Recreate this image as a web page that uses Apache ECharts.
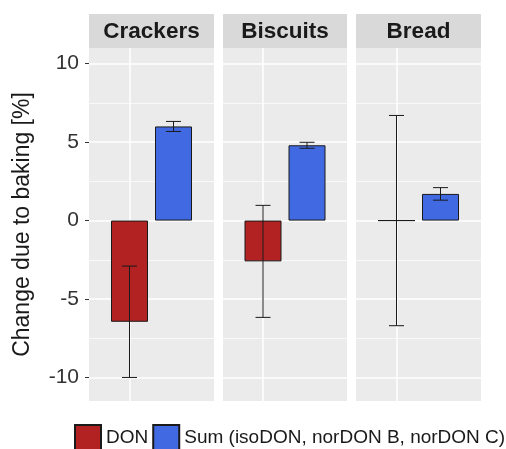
<!DOCTYPE html>
<html>
<head>
<meta charset="utf-8">
<script src="https://cdn.jsdelivr.net/npm/echarts@6/dist/echarts.min.js"></script>
<style>
  html, body { margin: 0; padding: 0; background: #fff; }
  #chart { width: 506px; height: 449px; }
</style>
</head>
<body>
<div id="chart"></div>
<script>
// Change in mycotoxin content due to baking, per product (mean ± SD)
const panels = ['Crackers', 'Biscuits', 'Bread'];
const seriesNames = ['DON', 'Sum (isoDON, norDON B, norDON C)'];
const donMean = [-6.45, -2.6, 0];
const donSd = [3.55, 3.57, 6.7];
const sumMean = [6.0, 4.8, 1.7];
const sumSd = [0.32, 0.19, 0.4];
const yTicks = [-10, -5, 0, 5, 10];
const yMinor = [-7.5, -2.5, 2.5, 7.5];
const yRange = [-11.5, 11];

const colors = ['#B22222', '#4169E1'];
const FONT = 'Liberation Sans, Arial, sans-serif';
const INK = '#1a1a1a';

// panel geometry
const gridLeft = [89, 223, 356];
const gridWidth = [125, 124, 125];
const gridTop = 48;
const gridHeight = 353;
const stripTop = 14;
const barW = 37;
const barGapPx = 7;
const dodge = (barW + barGapPx) / 2;
const capHalf = 7.5;

const grids = [], xAxes = [], yAxes = [], series = [], graphics = [];

panels.forEach((p, i) => {
  grids.push({
    left: gridLeft[i], top: gridTop, width: gridWidth[i], height: gridHeight,
    show: true, backgroundColor: '#EBEBEB', borderWidth: 0
  });
  xAxes.push({
    type: 'category', gridIndex: i, data: [p],
    axisLine: { show: false }, axisTick: { show: false },
    axisLabel: { show: false }, splitLine: { show: false }
  });
  yAxes.push({
    type: 'value', gridIndex: i, min: yRange[0], max: yRange[1],
    name: i === 0 ? 'Change due to baking [%]' : '',
    nameLocation: 'middle', nameGap: 55,
    nameTextStyle: { fontFamily: FONT, fontSize: 23, color: INK },
    axisLine: { show: false },
    axisTick: { show: i === 0, length: 4, customValues: yTicks,
      lineStyle: { color: '#333', width: 1 } },
    axisLabel: { show: i === 0, customValues: yTicks, margin: 10,
      fontFamily: FONT, fontSize: 21, color: '#333' },
    splitLine: { show: false }
  });

  const gridLines = [
    ...yTicks.map(v => ({ yAxis: v, lineStyle: { width: 1.5 } })),
    ...yMinor.map(v => ({ yAxis: v, lineStyle: { width: 0.7 } })),
    { xAxis: p, lineStyle: { width: 1.5 } }
  ];

  const means = [donMean[i], sumMean[i]];
  const sds = [donSd[i], sumSd[i]];
  seriesNames.forEach((name, k) => {
    const bar = {
      type: 'bar', name: name, xAxisIndex: i, yAxisIndex: i,
      data: [means[k]], barWidth: barW, barGap: (barGapPx / barW * 100) + '%',
      itemStyle: { color: colors[k], borderColor: INK, borderWidth: 1 },
      z: 2, animation: false, silent: true
    };
    if (k === 0) {
      bar.markLine = {
        silent: true, symbol: 'none', z: 1, animation: false,
        label: { show: false },
        lineStyle: { color: '#ffffff', type: 'solid' },
        data: gridLines
      };
    }
    series.push(bar);
  });

  // error bars (mean ± SD), dodged to sit on each bar
  series.push({
    type: 'custom', xAxisIndex: i, yAxisIndex: i, z: 3, animation: false, silent: true,
    data: [0, 1].map(k => [p, means[k] - sds[k], means[k] + sds[k], k]),
    encode: { x: 0, y: [1, 2] },
    renderItem: (params, api) => {
      const lo = api.coord([api.value(0), api.value(1)]);
      const hi = api.coord([api.value(0), api.value(2)]);
      const cx = lo[0] + (api.value(3) === 0 ? -dodge : dodge);
      const st = { stroke: INK, lineWidth: 1 };
      return {
        type: 'group',
        children: [
          { type: 'line', shape: { x1: cx, y1: lo[1], x2: cx, y2: hi[1] }, style: st },
          { type: 'line', shape: { x1: cx - capHalf, y1: lo[1], x2: cx + capHalf, y2: lo[1] }, style: st },
          { type: 'line', shape: { x1: cx - capHalf, y1: hi[1], x2: cx + capHalf, y2: hi[1] }, style: st }
        ]
      };
    }
  });

  // facet strip
  graphics.push({
    type: 'rect', left: gridLeft[i], top: stripTop,
    shape: { width: gridWidth[i], height: gridTop - stripTop },
    style: { fill: '#D9D9D9' }
  });
  graphics.push({
    type: 'text', x: gridLeft[i] + gridWidth[i] / 2, y: (stripTop + gridTop) / 2 + 1,
    style: { text: p, fill: INK, font: 'bold 22.5px ' + FONT,
      textAlign: 'center', textVerticalAlign: 'middle' }
  });
});

const chart = echarts.init(document.getElementById('chart'), null, { renderer: 'canvas' });
chart.setOption({
  animation: false,
  backgroundColor: '#ffffff',
  grid: grids,
  xAxis: xAxes,
  yAxis: yAxes,
  series: series,
  graphic: graphics,
  legend: {
    data: seriesNames, left: 74, top: 424, width: 520, padding: 0,
    itemWidth: 26, itemHeight: 26, itemGap: 4, icon: 'rect',
    textStyle: { fontFamily: FONT, fontSize: 19, color: INK },
    selectedMode: false
  }
});
</script>
</body>
</html>
